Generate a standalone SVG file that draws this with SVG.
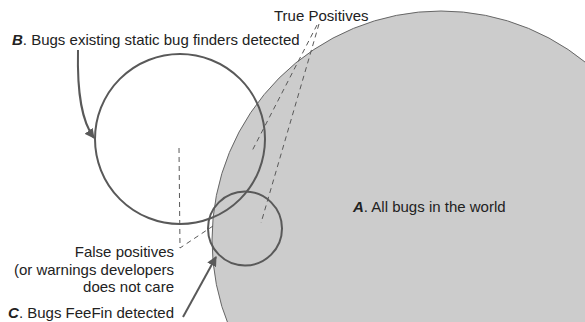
<svg xmlns="http://www.w3.org/2000/svg" width="585" height="322" viewBox="0 0 585 322">
<defs>
<style>
.t{font-family:"Liberation Sans",Arial,sans-serif;font-size:15px;fill:#222}
.b{font-weight:bold;font-style:italic}
.ring{fill:none;stroke:#595959;stroke-width:2}
.dash{fill:none;stroke:#595959;stroke-width:1;stroke-dasharray:5,4}
.arr{fill:none;stroke:#595959;stroke-width:2}
</style>
<marker id="ah" viewBox="0 0 10 10" refX="9" refY="5" markerWidth="5" markerHeight="5" orient="auto" markerUnits="strokeWidth">
<path d="M0,0 L10,5 L0,10 z" fill="#595959"/>
</marker>
</defs>
<rect width="585" height="322" fill="#fff"/>
<g id="A">
<circle cx="441" cy="240" r="229" fill="#cccccc" stroke="#666" stroke-width="1"/>
<text class="t" x="353" y="212"><tspan class="b">A</tspan>. All bugs in the world</text>
</g>
<g id="B">
<circle class="ring" cx="180" cy="139" r="85"/>
<text class="t" x="12" y="45"><tspan class="b">B</tspan>. Bugs existing static bug finders detected</text>
</g>
<g id="C">
<circle class="ring" cx="245" cy="228.5" r="37"/>
<text class="t" x="174" y="318" text-anchor="end"><tspan class="b">C</tspan>. Bugs FeeFin detected</text>
</g>
<g id="TP">
<text class="t" x="274" y="21">True Positives</text>
</g>
<g id="FP">
<text class="t" x="174" y="257" text-anchor="end">False positives</text>
<text class="t" x="174" y="275" text-anchor="end">(or warnings developers</text>
<text class="t" x="174" y="292" text-anchor="end">does not care</text>
</g>
<g id="connectors">
<path class="dash" d="M317,25 L252,151"/>
<path class="dash" d="M319,24 L261,223"/>
<path class="dash" d="M179,148 L180,248 L213,226"/>
<path class="arr" d="M78,50 C77,95 82,122 94,138" marker-end="url(#ah)"/>
<path class="arr" d="M183,317 L216,257" marker-end="url(#ah)"/>
</g>
</svg>
